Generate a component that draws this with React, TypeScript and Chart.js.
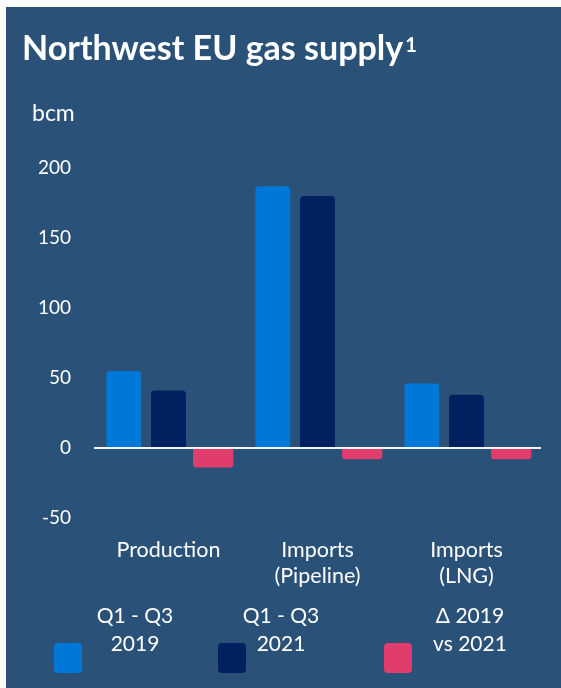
import React, { useEffect, useRef } from "react";
import { Chart, registerables } from "chart.js";

Chart.register(...registerables);

const categories: (string | string[])[] = ["Production", ["Imports", "(Pipeline)"], ["Imports", "(LNG)"]];
const q2019 = [55, 187, 46];
const q2021 = [41, 180, 38];
const delta = [-14, -8, -8];
const seriesLabels = [["Q1 - Q3", "2019"], ["Q1 - Q3", "2021"], ["Δ 2019", "vs 2021"]];
const yTicks = [-50, 0, 50, 100, 150, 200];

const BG = "#2a5279";
const BLUE = "#0078d7";
const DARK = "#00205f";
const PINK = "#e03c6c";
const FONT = "Lato, 'Open Sans', sans-serif";

export default function App() {
  const ref = useRef<HTMLCanvasElement | null>(null);
  useEffect(() => {
    if (!ref.current) return;
    const chart = new Chart(ref.current, {
      type: "bar",
      data: {
        labels: categories as any,
        datasets: [
          { label: "Q1 - Q3 2019", data: q2019, backgroundColor: BLUE, barPercentage: 0.78, categoryPercentage: 0.9, borderRadius: 4 },
          { label: "Q1 - Q3 2021", data: q2021, backgroundColor: DARK, barPercentage: 0.78, categoryPercentage: 0.9, borderRadius: 4 },
          { label: "Δ 2019 vs 2021", data: delta, backgroundColor: PINK, barPercentage: 0.9, categoryPercentage: 0.9, borderRadius: 3 },
        ],
      },
      options: {
        animation: false,
        responsive: false,
        maintainAspectRatio: false,
        layout: { padding: { top: 161, right: 20, left: 0, bottom: 0 } },
        plugins: { legend: { display: false }, title: { display: false }, tooltip: { enabled: false } },
        scales: {
          x: {
            grid: { display: false, drawTicks: false },
            border: { display: false },
            ticks: { color: "#ffffff", font: { family: FONT, size: 21.5 }, padding: 19, maxRotation: 0 },
            afterFit: (s: any) => { s.height = 170; },
          },
          y: {
            min: -50,
            max: 200,
            z: 1,
            afterBuildTicks: (s: any) => { s.ticks = yTicks.map((v) => ({ value: v })); },
            afterFit: (s: any) => { s.width = 88; },
            grid: {
              drawTicks: false,
              color: (c: any) => (c.tick && c.tick.value === 0 ? "#f2f2f2" : "rgba(0,0,0,0)"),
              lineWidth: 2,
            },
            border: { display: false },
            ticks: { color: "#ffffff", font: { family: FONT, size: 19 }, padding: 23 },
          },
        },
      },
    });
    return () => chart.destroy();
  }, []);

  const legendX = [54, 218, 384];
  const legendTextX = [135, 281, 470];
  const colors = [BLUE, DARK, PINK];

  return (
    <div style={{ position: "fixed", left: 6, top: 7, width: 555, height: 681, background: BG, overflow: "hidden", fontFamily: FONT, color: "#ffffff" }}>
      <canvas ref={ref} width={555} height={681} style={{ position: "absolute", left: 0, top: 0, width: 555, height: 681 }} />
      <div style={{ position: "absolute", left: 16, top: 20, fontSize: 34, fontWeight: 700, whiteSpace: "nowrap", lineHeight: "40px" }}>
        Northwest EU gas supply<sup style={{ fontSize: 20, verticalAlign: "top", position: "relative", top: -3, marginLeft: 2 }}>1</sup>
      </div>
      <div style={{ position: "absolute", left: 26, top: 91, fontSize: 23, lineHeight: "28px" }}>bcm</div>
      {seriesLabels.map((lines, i) => (
        <React.Fragment key={i}>
          <div style={{ position: "absolute", left: legendX[i] - 6, top: 643 - 7, width: 28, height: 30, borderRadius: 4, background: colors[i] }} />
          <div style={{ position: "absolute", left: legendTextX[i] - 6 - 60, width: 120, top: 594, textAlign: "center", fontSize: 21, lineHeight: "28px" }}>
            {lines[0]}
            <br />
            {lines[1]}
          </div>
        </React.Fragment>
      ))}
    </div>
  );
}
